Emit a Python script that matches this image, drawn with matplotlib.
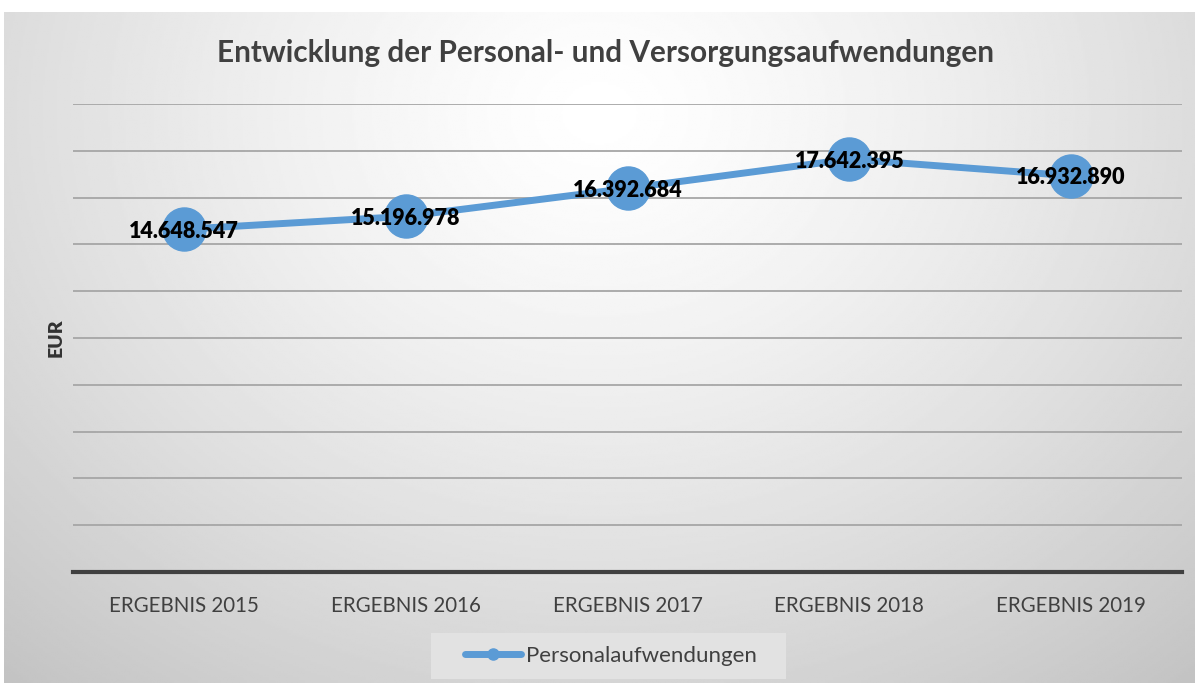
import numpy as np
import matplotlib.pyplot as plt
from matplotlib.patches import Rectangle
from matplotlib.ticker import MultipleLocator

# data
categories = ["ERGEBNIS 2015", "ERGEBNIS 2016", "ERGEBNIS 2017", "ERGEBNIS 2018", "ERGEBNIS 2019"]
personal = [14648547, 15196978, 16392684, 17642395, 16932890]
labels = ["14.648.547", "15.196.978", "16.392.684", "17.642.395", "16.932.890"]

plt.rcParams['font.family'] = ['Lato', 'DejaVu Sans']

W, H = 1199, 686
fig = plt.figure(figsize=(W / 100, H / 100), dpi=100)
fig.patch.set_facecolor('white')

# gradient background of the chart area
bg = fig.add_axes([4 / W, 1 - 683 / H, 1191 / W, 671 / H])
yy, xx = np.mgrid[0:1:300j, 0:1:600j]
d = np.sqrt(((xx - 0.5) / 0.75) ** 2 + ((yy - 0.15) / 1.1) ** 2)
shade = np.clip(1.0 - 0.23 * d ** 1.3, 0.76, 1.0)
bg.imshow(shade, cmap='gray', vmin=0, vmax=1, aspect='auto', extent=[0, 1, 0, 1], origin='upper')
bg.axis('off')

# plot area
x0, x1 = 73, 1182
y0, y1 = 104, 572
ax = fig.add_axes([x0 / W, 1 - y1 / H, (x1 - x0) / W, (y1 - y0) / H])
ax.patch.set_alpha(0)
xs = np.arange(len(categories))
ax.plot(xs, personal, color='#5b9bd5', linewidth=5, marker='o', markersize=31,
        solid_capstyle='round', zorder=3)
for x, v, t in zip(xs, personal, labels):
    ax.text(x, v, t, ha='center', va='center_baseline', fontsize=15.5, fontweight='heavy',
            color='black', zorder=4)

ax.set_xlim(-0.5, len(categories) - 0.5)
ax.set_ylim(0, 20000000)
ax.yaxis.set_major_locator(MultipleLocator(2000000))
ax.set_yticklabels([])
ax.tick_params(axis='y', length=0)
ax.tick_params(axis='x', length=0, pad=17)
ax.set_xticks(xs)
ax.set_xticklabels(categories, fontsize=14.8, color='#404040')
ax.grid(axis='y', color='#a6a6a6', linewidth=1.3)
ax.set_axisbelow(True)
for s in ['top', 'right', 'left']:
    ax.spines[s].set_visible(False)
ax.spines['bottom'].set_color('#404040')
ax.spines['bottom'].set_linewidth(3)

ax.set_ylabel('EUR', fontsize=14, fontweight='heavy', color='#333333')
ax.yaxis.set_label_coords(-0.008, 0.5)

fig.text(606 / W, 1 - 53 / H, 'Entwicklung der Personal- und Versorgungsaufwendungen',
         ha='center', va='center', fontsize=21.4, fontweight='bold', color='#404040')

# legend box
fig.patches.append(Rectangle((431 / W, 1 - 679 / H), 355 / W, 46 / H,
                             transform=fig.transFigure, facecolor='#e2e2e2',
                             edgecolor='none', zorder=1))
leg = fig.legend(['Personalaufwendungen'], loc='center',
                 bbox_to_anchor=(611 / W, 1 - 656 / H), fontsize=16,
                 frameon=False, handlelength=2.5, handletextpad=0.25,
                 borderpad=0, borderaxespad=0)
for t in leg.get_texts():
    t.set_color('#404040')
h = leg.legend_handles[0]
h.set_markersize(8)
h.set_linewidth(5)

fig.savefig('out.png', dpi=100)
